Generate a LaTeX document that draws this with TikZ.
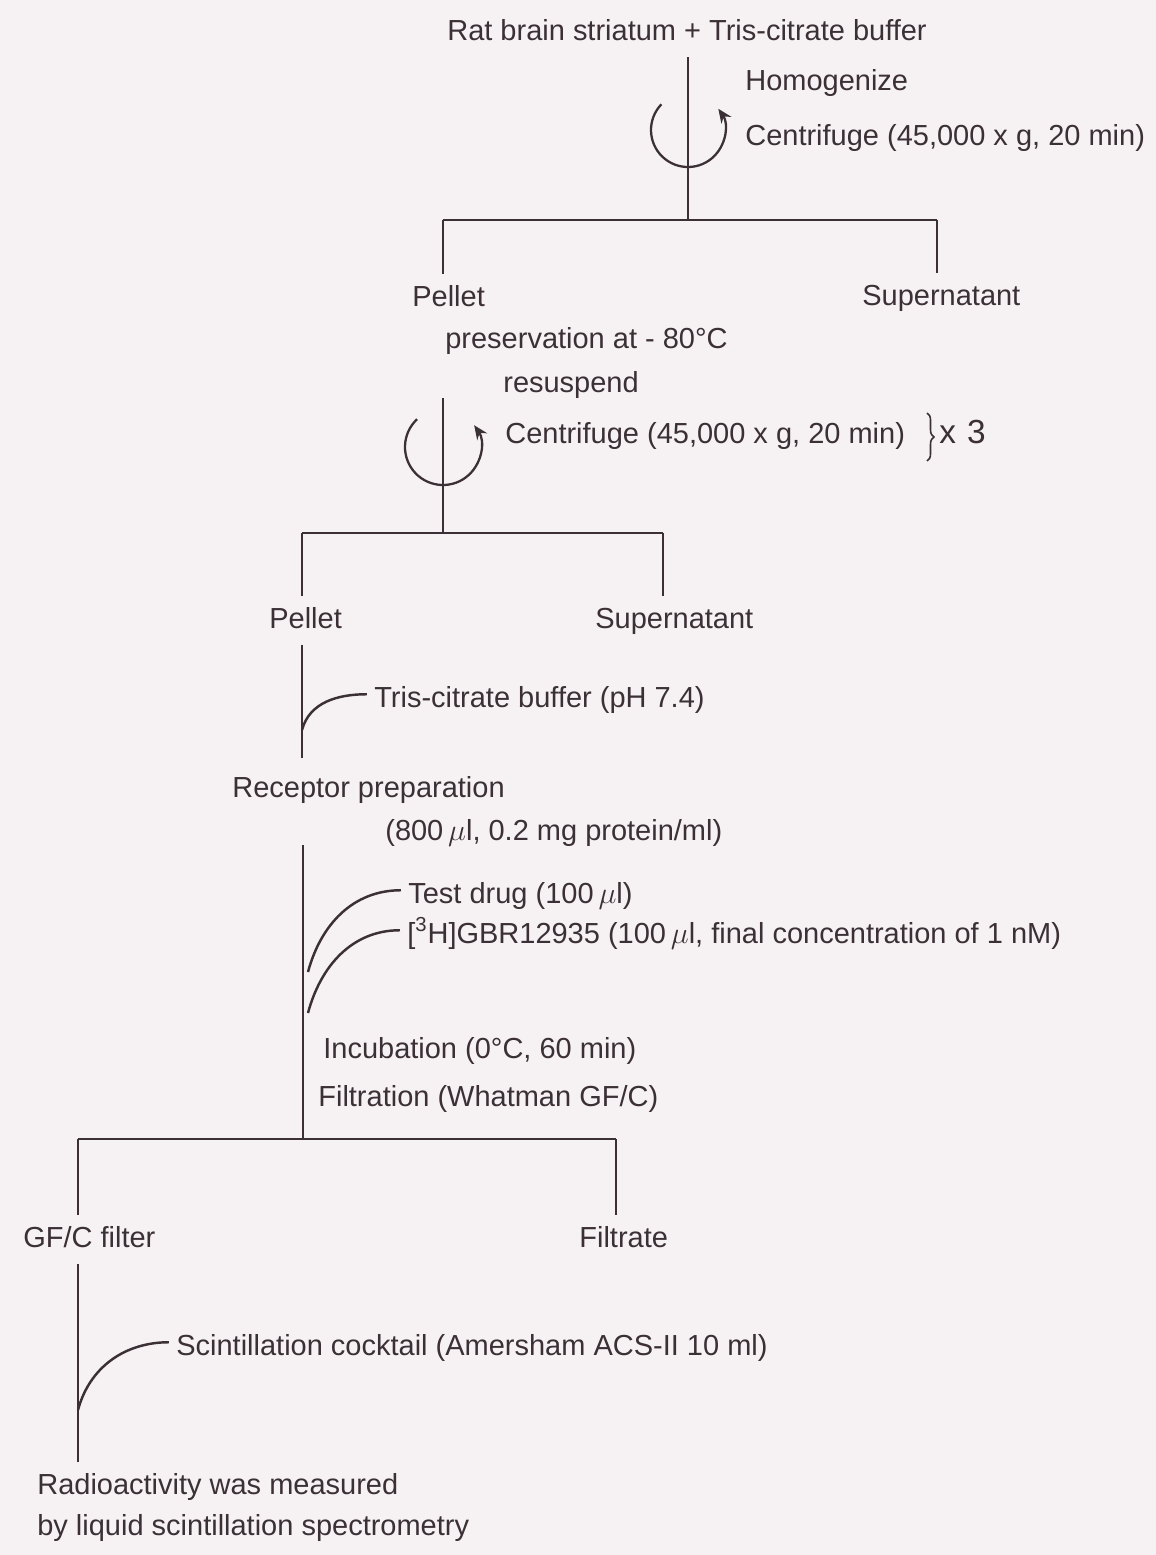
\documentclass[tikz,border=0pt]{standalone}
\usepackage{fontspec}
\setmainfont{Liberation Sans}
\usetikzlibrary{arrows.meta,calc,decorations.pathreplacing}
\definecolor{ink}{HTML}{3B3036}
\definecolor{paper}{HTML}{F6F2F3}

\begin{document}
\begin{tikzpicture}[x=0.02cm,y=0.02cm,
  lbl/.style={anchor=base west,inner xsep=0pt,inner ysep=6pt,text height=0.42cm,text depth=0.12cm,text=ink,font=\fontsize{16.5}{19}\selectfont},
  flow/.style={ink,line width=1.6pt},
  spin/.style={ink,line width=1.3pt,-{Stealth[length=2.8mm,width=2.4mm]}},
  feed/.style={ink,line width=1.4pt,out=75,in=180}]
\fill[paper] (0,0) rectangle (1156,-1555);
\useasboundingbox (0,0) rectangle (1156,-1555);
\node[lbl,anchor=base] (rat) at (687,-40) {Rat brain striatum + Tris-citrate buffer};
\node[lbl] (homog) at (745,-90) {Homogenize};
\node[lbl] (cent1) at (745,-145) {Centrifuge (45,000 x g, 20 min)};
\node[lbl] (pel1) at (412,-306) {Pellet};
\node[lbl] (sup1) at (862,-305) {Supernatant};
\node[lbl] (pres) at (445,-348) {preservation at - 80°C};
\node[lbl] (resus) at (503,-392) {resuspend};
\node[lbl] (cent2) at (505,-443) {Centrifuge (45,000 x g, 20 min)};
\node[lbl,font=\fontsize{19}{22}\selectfont] (times) at (939,-443) {x\,\,3};
\node[lbl] (pel2) at (269,-628) {Pellet};
\node[lbl] (sup2) at (595,-628) {Supernatant};
\node[lbl] (tris) at (374,-707) {Tris-citrate buffer (pH 7.4)};
\node[lbl] (rec) at (232,-797) {Receptor preparation};
\node[lbl] (recb) at (385,-840) {(800\,$\mu$l, 0.2 mg protein/ml)};
\node[lbl] (drug) at (408,-903) {Test drug (100\,$\mu$l)};
\node[lbl] (gbr) at (407,-943) {[\textsuperscript{3}H]GBR12935 (100\,$\mu$l, final concentration of 1 nM)};
\node[lbl] (incub) at (323,-1058) {Incubation (0°C, 60 min)};
\node[lbl] (filt) at (318,-1106) {Filtration (Whatman GF/C)};
\node[lbl] (gfc) at (23,-1247) {GF/C filter};
\node[lbl] (filtr) at (579,-1247) {Filtrate};
\node[lbl] (cock) at (176,-1355) {Scintillation cocktail (Amersham ACS-II 10 ml)};
\node[lbl] (radio) at (37,-1494) {Radioactivity was measured};
\node[lbl] (byliq) at (37,-1535) {by liquid scintillation spectrometry};
\coordinate (c1) at (688,-130);
\coordinate (j1) at (688,-220);
\coordinate (j1l) at (443,-220);
\coordinate (j1r) at (937,-220);
\draw[flow] (rat.south -| j1) -- (j1);
\draw[spin] ([shift={(136:37)}]c1) arc[start angle=136,end angle=395,radius=37];
\draw[flow] (j1l) -- (j1r);
\draw[flow] (j1l) -- (pel1.north -| j1l);
\draw[flow] (j1r) -- (sup1.north -| j1r);
\coordinate (t2) at (443,-398);
\coordinate (c2) at (443,-447);
\coordinate (j2) at (443,-533);
\coordinate (j2l) at (302,-533);
\coordinate (j2r) at (663,-533);
\draw[flow] (t2) -- (j2);
\draw[spin] ([shift={(133:38)}]c2) arc[start angle=133,end angle=395,radius=38];
\draw[ink,line width=0.9pt,decorate,decoration={brace,amplitude=4pt}] (927,-413) -- (927,-461);
\draw[flow] (j2l) -- (j2r);
\draw[flow] (j2l) -- (pel2.north -| j2l);
\draw[flow] (j2r) -- (sup2.north -| j2r);
\coordinate (l3) at (302,-758);
\coordinate (f0) at (302,-730);
\draw[flow] (pel2.south -| l3) -- (l3);
\draw[feed] (f0) to ([xshift=-4pt,yshift=3pt]tris.west);
\coordinate (t4) at (303,-845);
\coordinate (j3) at (303,-1139);
\coordinate (j3l) at (78,-1139);
\coordinate (j3r) at (616,-1139);
\coordinate (f1) at (308,-972);
\coordinate (f2) at (308,-1013);
\draw[flow] (t4) -- (j3);
\draw[feed] (f1) to ([xshift=-4pt,yshift=3pt]drug.west);
\draw[feed] (f2) to ([xshift=-4pt,yshift=3pt]gbr.west);
\draw[flow] (j3l) -- (j3r);
\draw[flow] (j3l) -- (gfc.north -| j3l);
\draw[flow] (j3r) -- (filtr.north -| j3r);
\coordinate (l5) at (78,-1462);
\coordinate (f3) at (78,-1410);
\draw[flow] (gfc.south -| l5) -- (l5);
\draw[feed] (f3) to ([xshift=-4pt,yshift=3pt]cock.west);
\end{tikzpicture}
\end{document}
